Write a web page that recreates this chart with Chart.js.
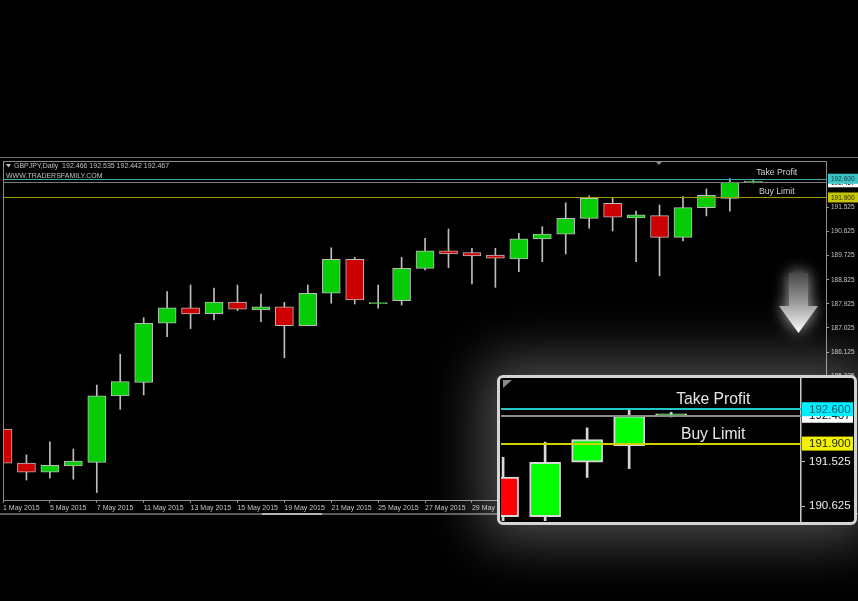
<!DOCTYPE html>
<html>
<head>
<meta charset="utf-8">
<script src="https://cdn.jsdelivr.net/npm/chart.js@4.4.1/dist/chart.umd.min.js"></script>
<style>
  html, body { margin: 0; padding: 0; background: #000; }
  body { width: 858px; height: 601px; position: relative; overflow: hidden; }
  #main { position: absolute; left: 0; top: 0; }
  #zoomBox {
    position: absolute; left: 497px; top: 375px; width: 360px; height: 150px;
    box-sizing: border-box; border: 3px solid #d4d4d4; border-radius: 6px;
    background: #000; box-shadow: 0 0 55px 16px rgba(255,255,255,0.3); overflow: hidden;
  }
  #zoom { position: absolute; left: 0; top: 0; }
</style>
</head>
<body>
<canvas id="main" width="858" height="601"></canvas>
<div id="zoomBox"><canvas id="zoom" width="354" height="144"></canvas></div>
<script>
// GBPJPY daily bars, 1 May 2015 .. 16 Jun 2015 (last one still forming)
const dates = ['1 May 2015', '4 May 2015', '5 May 2015', '6 May 2015', '7 May 2015', '8 May 2015',
  '11 May 2015', '12 May 2015', '13 May 2015', '14 May 2015', '15 May 2015', '18 May 2015',
  '19 May 2015', '20 May 2015', '21 May 2015', '22 May 2015', '25 May 2015', '26 May 2015',
  '27 May 2015', '28 May 2015', '29 May 2015', '1 Jun 2015', '2 Jun 2015', '3 Jun 2015',
  '4 Jun 2015', '5 Jun 2015', '8 Jun 2015', '9 Jun 2015', '10 Jun 2015', '11 Jun 2015',
  '12 Jun 2015', '15 Jun 2015', '16 Jun 2015', '17 Jun 2015', '18 Jun 2015', '19 Jun 2015'];
const open  = [183.24, 181.97, 181.63, 181.87, 182.00, 184.48, 184.99, 187.20, 187.78, 187.56, 187.99,
  187.70, 187.81, 187.11, 188.32, 189.59, 187.93, 188.04, 189.25, 189.91, 189.84, 189.75, 189.60,
  190.35, 190.53, 191.12, 191.68, 191.14, 191.22, 190.41, 191.52, 191.86, 192.466];
const high  = [184.44, 182.28, 182.77, 182.50, 184.89, 186.04, 187.41, 188.38, 188.63, 188.51, 188.63,
  188.29, 187.98, 188.63, 190.02, 189.66, 188.63, 189.66, 190.37, 190.72, 190.00, 190.00, 190.56,
  190.81, 191.70, 191.96, 191.89, 191.39, 191.62, 191.93, 192.22, 192.61, 192.535];
const low   = [181.72, 181.34, 181.41, 181.37, 180.87, 183.98, 184.52, 186.70, 187.00, 187.32, 187.67,
  187.26, 185.91, 187.10, 187.95, 187.92, 187.76, 187.88, 189.19, 189.28, 188.67, 188.54, 189.13,
  189.50, 189.79, 190.75, 190.65, 189.50, 188.97, 190.28, 191.21, 191.39, 192.442];
const close = [181.97, 181.63, 181.89, 182.05, 184.49, 185.02, 187.20, 187.78, 187.55, 187.99, 187.73,
  187.81, 187.11, 188.32, 189.59, 188.07, 187.93, 189.25, 189.91, 189.79, 189.72, 189.63, 190.35,
  190.53, 191.12, 191.87, 191.16, 191.25, 190.41, 191.52, 191.98, 192.466, 192.467];
const priceTicks = [191.525, 190.625, 189.725, 188.825, 187.925, 187.025, 186.125, 185.225,
  184.325, 183.425, 182.525, 181.625, 180.725];
const takeProfit = 192.600;
const buyLimit = 191.900;
const symbolName = 'GBPJPY,Daily';
const siteName = 'WWW.TRADERSFAMILY.COM';
const labelBar = 33; // bar the object texts are centred on

Chart.defaults.font.family = '"Liberation Sans", Arial, sans-serif';

function candleSets(s) {
  return [{
    data: open.map((o, i) => ({x: i, y: [o, close[i]]})),
    grouped: false, order: 0, clip: 0,
    barThickness: s.body, minBarLength: s.bw,
    backgroundColor: (c) => close[c.dataIndex] < open[c.dataIndex] ? s.red : s.green,
    borderColor: s.edge, borderWidth: s.bw, borderSkipped: false
  }, {
    data: low.map((l, i) => ({x: i, y: [l, high[i]]})),
    grouped: false, order: 1, clip: 0,
    barThickness: s.wick, backgroundColor: s.edge, borderWidth: 0
  }];
}

// level lines, object texts and price-scale tags
const mt4 = {
  id: 'mt4',
  afterDatasetsDraw(chart, args, o) {
    const {ctx, chartArea: a, scales: {x, y}} = chart;
    ctx.save();
    ctx.beginPath();
    ctx.rect(a.left, a.top, a.right - a.left, a.bottom - a.top);
    ctx.clip();
    const lines = [[close[close.length - 1], o.bidLine], [takeProfit, o.tpLine], [buyLimit, o.blLine]];
    ctx.lineWidth = o.lw;
    lines.forEach(([v, col]) => {
      const py = Math.round(y.getPixelForValue(v)) + (o.lw % 2 ? 0.5 : 0);
      ctx.strokeStyle = col;
      ctx.beginPath();
      ctx.moveTo(a.left, py);
      ctx.lineTo(a.right, py);
      ctx.stroke();
    });
    ctx.font = o.textSize + 'px "Liberation Sans", Arial, sans-serif';
    ctx.fillStyle = o.textColor;
    ctx.textAlign = 'center';
    ctx.textBaseline = 'alphabetic';
    const tx = x.getPixelForValue(labelBar);
    ctx.fillText('Take Profit', tx, y.getPixelForValue(takeProfit) - o.textGap);
    ctx.fillText('Buy Limit', tx, y.getPixelForValue(buyLimit) - o.textGap);
    if (o.corner) {
      ctx.fillStyle = '#8a8a8a';
      ctx.beginPath();
      ctx.moveTo(a.left + 2, a.top + 2);
      ctx.lineTo(a.left + 11, a.top + 2);
      ctx.lineTo(a.left + 2, a.top + 10);
      ctx.fill();
    }
    ctx.restore();
  },
  afterDraw(chart, args, o) {
    const {ctx, scales: {y}} = chart;
    const tags = [[close[close.length - 1], '#ffffff', '#000000'], [takeProfit, o.tpBox, o.tpText], [buyLimit, o.blBox, o.blText]];
    ctx.save();
    ctx.font = o.tagSize + 'px "Liberation Sans", Arial, sans-serif';
    ctx.textAlign = 'left';
    ctx.textBaseline = 'middle';
    tags.forEach(([v, bg, fg]) => {
      const py = y.getPixelForValue(v);
      ctx.fillStyle = bg;
      ctx.fillRect(y.left + o.tagInset, py - o.tagH / 2, chart.width - y.left - o.tagInset - o.tagRight, o.tagH);
      ctx.fillStyle = fg;
      ctx.fillText(v.toFixed(3), y.left + o.tagX, py + 0.5);
    });
    ctx.restore();
  }
};

// window frame, header, arrow (main chart only)
const decor = {
  id: 'decor',
  afterDraw(chart) {
    const {ctx, chartArea: a} = chart;
    ctx.save();
    ctx.strokeStyle = '#707070';
    ctx.lineWidth = 1;
    ctx.beginPath(); ctx.moveTo(0, 157.5); ctx.lineTo(858, 157.5); ctx.stroke();
    ctx.strokeStyle = '#8c8c8c';
    ctx.strokeRect(a.left + 0.5, a.top + 0.5, a.right - a.left, a.bottom - a.top);
    ctx.lineWidth = 2;
    ctx.strokeStyle = '#5c5c5c';
    ctx.beginPath(); ctx.moveTo(0, 514); ctx.lineTo(858, 514); ctx.stroke();
    ctx.strokeStyle = '#b4b4b4';
    ctx.beginPath(); ctx.moveTo(262, 514); ctx.lineTo(322, 514); ctx.stroke();

    // chart shift marker
    ctx.fillStyle = '#8a8a8a';
    ctx.beginPath(); ctx.moveTo(655, 161); ctx.lineTo(663, 161); ctx.lineTo(659, 165); ctx.fill();

    // header
    ctx.fillStyle = '#c0c0c0';
    ctx.beginPath(); ctx.moveTo(6, 164); ctx.lineTo(11, 164); ctx.lineTo(8.5, 167.5); ctx.fill();
    ctx.font = '7px "Liberation Sans", Arial, sans-serif';
    ctx.textBaseline = 'middle';
    const n = close.length - 1;
    const ohlc = [open[n], high[n], low[n], close[n]].map(v => v.toFixed(3)).join(' ');
    ctx.fillText(symbolName + '  ' + ohlc, 14, 166);
    ctx.fillText(siteName, 6, 176);

    // down arrow
    const g = ctx.createLinearGradient(0, 272, 0, 333);
    g.addColorStop(0, '#444444');
    g.addColorStop(0.5, '#9a9a9a');
    g.addColorStop(1, '#ffffff');
    ctx.shadowColor = 'rgba(255,255,255,0.7)';
    ctx.shadowBlur = 16;
    ctx.fillStyle = g;
    ctx.beginPath();
    ctx.moveTo(789, 273); ctx.lineTo(808, 273); ctx.lineTo(808, 306); ctx.lineTo(818, 306);
    ctx.lineTo(798.5, 333); ctx.lineTo(779, 306); ctx.lineTo(789, 306);
    ctx.closePath();
    ctx.fill();
    ctx.restore();
  }
};

const visibleTicks = (s) => {
  s.ticks = priceTicks.filter(v => v >= s.min && v <= s.max).map(v => ({value: v}));
};

new Chart(document.getElementById('main'), {
  type: 'bar',
  data: { datasets: candleSets({body: 18, wick: 1, bw: 1, green: '#06cc06', red: '#cc0000', edge: '#bdbdbd'}) },
  options: {
    responsive: false,
    animation: false,
    layout: { padding: { left: 3, top: 161, right: 0, bottom: 81 } },
    scales: {
      x: {
        type: 'linear', offset: false, min: 0, max: 35.1,
        afterBuildTicks: (s) => { s.ticks = dates.map((d, i) => ({value: i})).filter(t => t.value % 2 === 0); },
        afterFit: (s) => { s.height = 20; },
        ticks: { autoSkip: false, maxRotation: 0, align: 'start', color: '#c4c4c4', font: {size: 7}, padding: 1,
                 callback: (v) => dates[v] },
        grid: { display: true, drawOnChartArea: false, drawTicks: true, tickLength: 3, color: '#8c8c8c', offset: false },
        border: { display: true, color: '#8c8c8c' }
      },
      y: {
        position: 'right', min: 180.594, max: 193.263,
        afterBuildTicks: visibleTicks,
        afterFit: (s) => { s.width = 32; },
        ticks: { color: '#c4c4c4', font: {size: 6.5}, padding: 2, callback: (v) => v.toFixed(3) },
        grid: { display: true, drawOnChartArea: false, drawTicks: true, tickLength: 3, color: '#a0a0a0' },
        border: { display: true, color: '#a0a0a0' }
      }
    },
    plugins: {
      legend: { display: false },
      tooltip: { enabled: false },
      mt4: {
        lw: 1, bidLine: '#787878', tpLine: '#38a8a8', blLine: '#9e9e00',
        textSize: 8.7, textGap: 3.5, textColor: '#d0d0d0',
        tagSize: 6.5, tagH: 10, tagInset: 2, tagRight: 0, tagX: 5,
        tpBox: '#3cc4c4', tpText: '#0c3c44', blBox: '#c6c600', blText: '#2a2a00'
      }
    }
  },
  plugins: [mt4, decor]
});

new Chart(document.getElementById('zoom'), {
  type: 'bar',
  data: { datasets: candleSets({body: 31, wick: 2, bw: 2, green: '#00ff00', red: '#ff0000', edge: '#d8d8d8'}) },
  options: {
    responsive: false,
    animation: false,
    layout: { padding: { left: 1, top: 0, right: 0, bottom: 1 } },
    scales: {
      x: { type: 'linear', offset: false, min: 27.95, max: 35.09, display: false },
      y: {
        position: 'right', min: 190.323, max: 193.236,
        afterBuildTicks: visibleTicks,
        afterFit: (s) => { s.width = 53; s.paddingTop = 0; s.paddingBottom = 0; },
        ticks: { color: '#ececec', font: {size: 11.5}, padding: 4, callback: (v) => v.toFixed(3) },
        grid: { display: true, drawOnChartArea: false, drawTicks: true, tickLength: 4, color: '#c8c8c8' },
        border: { display: true, color: '#c8c8c8', width: 1.5 }
      }
    },
    plugins: {
      legend: { display: false },
      tooltip: { enabled: false },
      mt4: {
        lw: 2, bidLine: '#8c8c8c', tpLine: '#22c8c8', blLine: '#d2d200',
        textSize: 15.7, textGap: 5, textColor: '#e6e6e6', corner: true,
        tagSize: 11.5, tagH: 14, tagInset: 1, tagRight: 1, tagX: 8,
        tpBox: '#00f0ff', tpText: '#005a6a', blBox: '#f2f200', blText: '#262600'
      }
    }
  },
  plugins: [mt4]
});
</script>
</body>
</html>
